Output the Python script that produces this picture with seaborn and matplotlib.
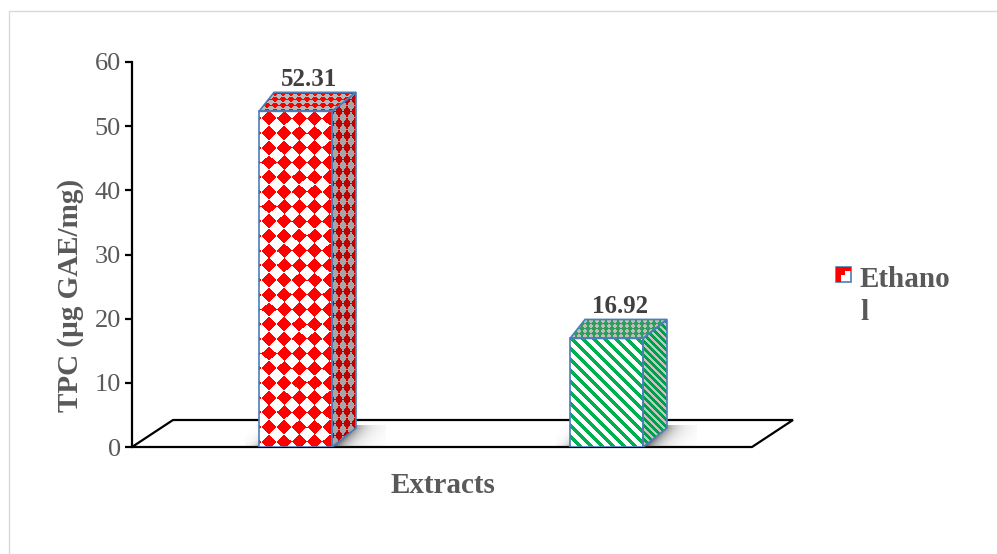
import numpy as np
import pandas as pd
import matplotlib
matplotlib.use("Agg")
import matplotlib.pyplot as plt
import seaborn as sns
from matplotlib.patches import Polygon, Rectangle, Patch
from matplotlib.lines import Line2D
from matplotlib.legend_handler import HandlerBase

# ---- data ----
extracts = ["Ethanol", "Aqueous"]
tpc = [52.31, 16.92]
value_labels = ["52.31", "16.92"]
y_ticks = [0, 10, 20, 30, 40, 50, 60]
legend_label = "Ethano\nl"
y_title = "TPC (µg GAE/mg)"
x_title = "Extracts"

# ---- style ----
EDGE = "#4A7EBB"
TEXT = "#595959"
W, H = 997, 554

sns.set_theme(style="white")
plt.rcParams["font.family"] = ["Liberation Serif", "DejaVu Serif"]

fig = plt.figure(figsize=(W / 100, H / 100), dpi=100)
ax = fig.add_axes([132 / W, 107 / H, 620 / W, 385 / H])

XLIM = (-0.5257, 1.4678)
PX_X = 620 / (XLIM[1] - XLIM[0])      # pixels per category unit
PX_Y = 385 / 60.0                     # pixels per y unit


def dxp(p):
    return p / PX_X


def dyp(p):
    return p / PX_Y


df = pd.DataFrame({"extract": extracts, "tpc": tpc})
sns.barplot(data=df, x="extract", y="tpc", color="white", width=73 / PX_X,
            edgecolor=EDGE, linewidth=1.2, ax=ax, zorder=5)
ax.set_xlim(*XLIM)
ax.set_ylim(0, 60)
ax.set_yticks(y_ticks)
ax.set_xticks([])

# ---- texture helpers (patterns are computed in figure pixel space) ----
def diamonds(px, py, fg, bg, k=1.0, ox=0.0, oy=0.0):
    fg = np.array(matplotlib.colors.to_rgb(fg))
    bg = np.array(matplotlib.colors.to_rgb(bg))

    def f(X, Y):
        u = ((X - ox) / px + 0.5) % 1 - 0.5
        v = ((Y - oy) / py + 0.5) % 1 - 0.5
        m = (np.abs(u) + np.abs(v)) < 0.5 * k
        return np.where(m[..., None], fg, bg)
    return f


def stripes(period, frac, fg, bg, slope=1.0):
    fg = np.array(matplotlib.colors.to_rgb(fg))
    bg = np.array(matplotlib.colors.to_rgb(bg))

    def f(X, Y):
        t = ((X - slope * Y) / period) % 1
        return np.where((t < frac)[..., None], fg, bg)
    return f


def textured(poly_xy, fill, zorder=3):
    poly = Polygon(poly_xy, closed=True, facecolor="none", edgecolor="none")
    ax.add_patch(poly)
    pts = ax.transData.transform(poly_xy)
    x0, y0 = np.floor(pts.min(axis=0))
    x1, y1 = np.ceil(pts.max(axis=0))
    w, h = int(x1 - x0), int(y1 - y0)
    X = x0 + np.arange(w) + 0.5
    Y = (H - y1) + np.arange(h) + 0.5
    XX, YY = np.meshgrid(X, Y)
    img = fill(XX, YY)
    inv = ax.transData.inverted()
    (dx0, dy0), (dx1, dy1) = inv.transform([[x0, y0], [x1, y1]])
    im = ax.imshow(img, extent=[dx0, dx1, dy0, dy1], origin="upper",
                   interpolation="nearest", aspect="auto", zorder=zorder)
    im.set_clip_path(poly)
    return poly


# ---- floor ----
FDX, FDY = dxp(41), dyp(27)
floor = Polygon([[XLIM[0], 0], [XLIM[1], 0], [XLIM[1] + FDX, FDY],
                 [XLIM[0] + FDX, FDY]], closed=True, facecolor="white",
                edgecolor="black", linewidth=1.6, zorder=1, clip_on=False,
                joinstyle="miter")
ax.add_patch(floor)

# ---- 3-D bar faces ----
DXL, DXR, DZ = dxp(15), dxp(24), dyp(19)
styles = [
    dict(front=lambda L, T: diamonds(15.2, 14.7, "#FF0000", "white", 1.0, L + 10, T + 7),
         side=lambda L, T: diamonds(8, 12, "#C00000", "#A6A6A6", 1.0, L, T),
         top=lambda L, T: diamonds(8, 6, "#FF0000", "#B8B8B8", 1.0, L, T)),
    dict(front=lambda L, T: stripes(11, 0.38, "#00B050", "white"),
         side=lambda L, T: stripes(7, 0.45, "#00A04A", "#C4C4C4"),
         top=lambda L, T: diamonds(6, 5, "#2E9E5A", "#BDBDBD", 1.0, L, T)),
]

bars = [p for p in ax.patches if isinstance(p, Rectangle)]
for bar, st, val, lab in zip(bars, styles, tpc, value_labels):
    L = bar.get_x()
    R = L + bar.get_width()
    top = bar.get_height()
    bar.set_facecolor("none")
    bar.set_edgecolor(EDGE)
    bar.set_linewidth(1.2)
    bar.set_zorder(6)

    Lpx, Tpx = ax.transData.transform([L, top])
    Tpx = H - Tpx

    # soft shadow on the floor
    sx0, sx1 = L - dxp(14), R + DXR + dxp(30)
    pts = ax.transData.transform([[sx0, 0], [sx1, DZ + dyp(3)]])
    w, h = int(pts[1, 0] - pts[0, 0]), int(pts[1, 1] - pts[0, 1])
    xs = np.linspace(sx0, sx1, w)
    ys = np.linspace(DZ + dyp(3), 0, h)
    XX, YY = np.meshgrid(xs, ys)
    t = np.clip(YY / DZ, 0, 1)
    rb = R + t * DXR
    lb = L + t * DXL
    dR = np.clip((XX - rb) * PX_X, 0, None)
    dL = np.clip((lb - XX) * PX_X, 0, None)
    alpha = np.where(XX > rb, 0.95 * np.exp(-dR / 11.0),
                     np.where(XX < lb, 0.45 * np.exp(-dL / 6.0), 0.95))
    alpha *= (1.0 - 0.45 * t)
    rgba = np.zeros((h, w, 4))
    rgba[..., :3] = 0.22
    rgba[..., 3] = alpha
    sh = ax.imshow(rgba, extent=[sx0, sx1, 0, DZ + dyp(3)], origin="upper",
                   aspect="auto", interpolation="bilinear", zorder=2)
    sh.set_clip_path(floor)

    # faces
    textured([[L, 0], [R, 0], [R, top], [L, top]], st["front"](Lpx, Tpx), 3)
    side = [[R, 0], [R + DXR, DZ], [R + DXR, top + DZ], [R, top]]
    textured(side, st["side"](Lpx, Tpx), 3)
    ax.add_patch(Polygon(side, closed=True, facecolor="none", edgecolor=EDGE,
                         linewidth=1.2, zorder=6))
    topf = [[L, top], [L + DXL, top + DZ], [R + DXR, top + DZ], [R, top]]
    textured(topf, st["top"](Lpx, Tpx), 3)
    ax.add_patch(Polygon(topf, closed=True, facecolor="none", edgecolor=EDGE,
                         linewidth=1.2, zorder=6))

    ax.text((L + R) / 2 + dxp(14), top + DZ + dyp(6), lab, ha="center",
            va="baseline", fontsize=18, fontweight="bold", color="#404040",
            zorder=7)

ax.set_xlim(*XLIM)
ax.set_ylim(0, 60)

# ---- axes styling ----
for s in ["top", "right", "bottom"]:
    ax.spines[s].set_visible(False)
ax.spines["left"].set_color("black")
ax.spines["left"].set_linewidth(1.6)
ax.spines["left"].set_zorder(8)
ax.tick_params(axis="y", which="major", left=True, direction="out",
               length=5, width=1.6, color="black", pad=3, labelsize=19,
               labelcolor=TEXT)
ax.set_facecolor("none")
ax.grid(False)

ax.set_ylabel(y_title, fontsize=21, fontweight="bold", color=TEXT)
ax.yaxis.set_label_coords(84 / W, (H - 295) / H, transform=fig.transFigure)
ax.set_xlabel(x_title, fontsize=21, fontweight="bold", color=TEXT)
ax.xaxis.set_label_coords(443 / W, (H - 472) / H, transform=fig.transFigure)


# ---- legend ----
class SwatchHandler(HandlerBase):
    def create_artists(self, legend, orig_handle, xdescent, ydescent, width,
                       height, fontsize, trans):
        s = min(width, height)
        x0 = -xdescent + (width - s) / 2
        y0 = -ydescent + (height - s) / 2 + 15.5
        box = Rectangle((x0, y0), s, s, facecolor="white", edgecolor=EDGE,
                        linewidth=1.2, transform=trans)
        red = Polygon([[x0, y0], [x0, y0 + s], [x0 + s, y0 + s],
                       [x0 + s, y0 + 0.75 * s], [x0 + 0.65 * s, y0 + 0.75 * s],
                       [x0 + 0.65 * s, y0 + 0.45 * s], [x0 + 0.35 * s, y0 + 0.45 * s],
                       [x0 + 0.35 * s, y0]], closed=True, facecolor="#FF0000",
                      edgecolor="none", transform=trans)
        return [box, red]


handle = Patch(facecolor="#FF0000", edgecolor=EDGE)
leg = fig.legend([handle], [legend_label], handler_map={Patch: SwatchHandler()},
                 loc="upper left", bbox_to_anchor=(836 / W, (H - 266) / H),
                 frameon=False, handlelength=0.5, handleheight=0.5,
                 handletextpad=0.32, borderaxespad=0, borderpad=0,
                 prop={"size": 21, "weight": "bold"})
for txt in leg.get_texts():
    txt.set_color(TEXT)
    txt.set_linespacing(1.3)

# ---- chart area border ----
fig.add_artist(Line2D([9 / W, 1], [(H - 11) / H, (H - 11) / H],
                      transform=fig.transFigure, color="#D9D9D9", lw=1))
fig.add_artist(Line2D([9 / W, 9 / W], [0, (H - 11) / H],
                      transform=fig.transFigure, color="#D9D9D9", lw=1))

fig.savefig("out.png", dpi=100, facecolor="white")
